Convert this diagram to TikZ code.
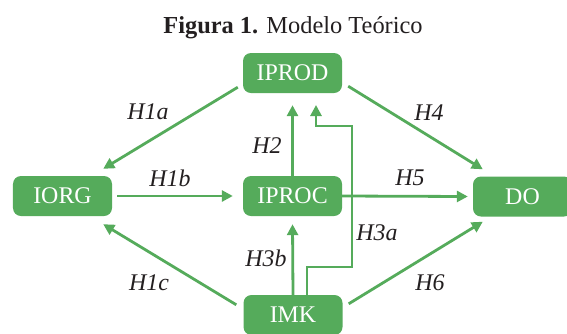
\documentclass[tikz,border=0pt]{standalone}
\usepackage{fontspec}
\setmainfont{Liberation Serif}
\usetikzlibrary{arrows.meta,calc}
\definecolor{boxgreen}{HTML}{55AB5B}
\definecolor{txtdark}{HTML}{231F20}
\tikzset{
  varbox/.style={draw=none, fill=boxgreen, rounded corners=8bp, minimum width=99bp, minimum height=40bp, inner sep=0pt, text=white, font=\fontsize{24}{24}\selectfont},
  conn/.style={draw=boxgreen, line width=2.8bp, -{Triangle[length=11bp,width=11bp]}},
  hlab/.style={text=txtdark, font=\fontsize{24}{24}\selectfont\itshape, inner sep=0pt}
}
\begin{document}
\begin{tikzpicture}[x=1bp,y=-1bp]
\useasboundingbox (0,0) rectangle (567,333);
\node[text=txtdark, anchor=base, inner sep=0pt, font=\fontsize{24.5}{24.5}\selectfont] (title) at (293,33) {\textbf{Figura 1.} Modelo Teórico};
\node[varbox] (iprod) at (292.5,73) {IPROD};
\node[varbox] (iorg) at (62.5,196) {IORG};
\node[varbox] (iproc) at (292.5,196) {IPROC};
\node[varbox] (do) at (522.5,196.5) {DO};
\node[varbox] (imk) at (293,315) {IMK};
% connectors
\draw[conn] ($(iprod.south west)+(-5,-6)$) -- ($(iorg.north east)+(-9,-7)$);
\draw[conn] ($(iprod.south east)+(6,-7)$) -- ($(do.north west)+(10,-7)$);
\draw[conn] ($(iorg.east)+(5,0)$) -- ($(iproc.west)+(-10,0)$);
\draw[conn] (iproc.east) -- ($(do.west)+(-5,0)$);
\draw[conn] (iproc.north) -- ($(iprod.south)+(0,12)$);
\draw[conn] (imk.north) -- ($(iproc.south)+(0,8)$);
\coordinate (h3a1) at (307,267);
\coordinate (h3a2) at (352,267);
\coordinate (h3a3) at (352,126);
\coordinate (h3a4) at (316,126);
\coordinate (h3a5) at (316,105);
\draw[conn] (imk.north -| h3a1) -- (h3a1) -- (h3a2) -- (h3a3) -- (h3a4) -- (h3a5);
\draw[conn] ($(imk.north west)+(-7,10)$) -- ($(iorg.south east)+(-9,8)$);
\draw[conn] ($(imk.north east)+(6,9)$) -- ($(do.south west)+(10,5)$);
% labels
\node[hlab] (l1a) at (148,112) {H1a};
\node[hlab] (l4) at (429,113) {H4};
\node[hlab] (l1b) at (170,178) {H1b};
\node[hlab] (l5) at (410,178) {H5};
\node[hlab] (l2) at (267,146) {H2};
\node[hlab] (l3a) at (377,233) {H3a};
\node[hlab] (l3b) at (266,258) {H3b};
\node[hlab] (l1c) at (149,283) {H1c};
\node[hlab] (l6) at (430,283) {H6};
\end{tikzpicture}
\end{document}
